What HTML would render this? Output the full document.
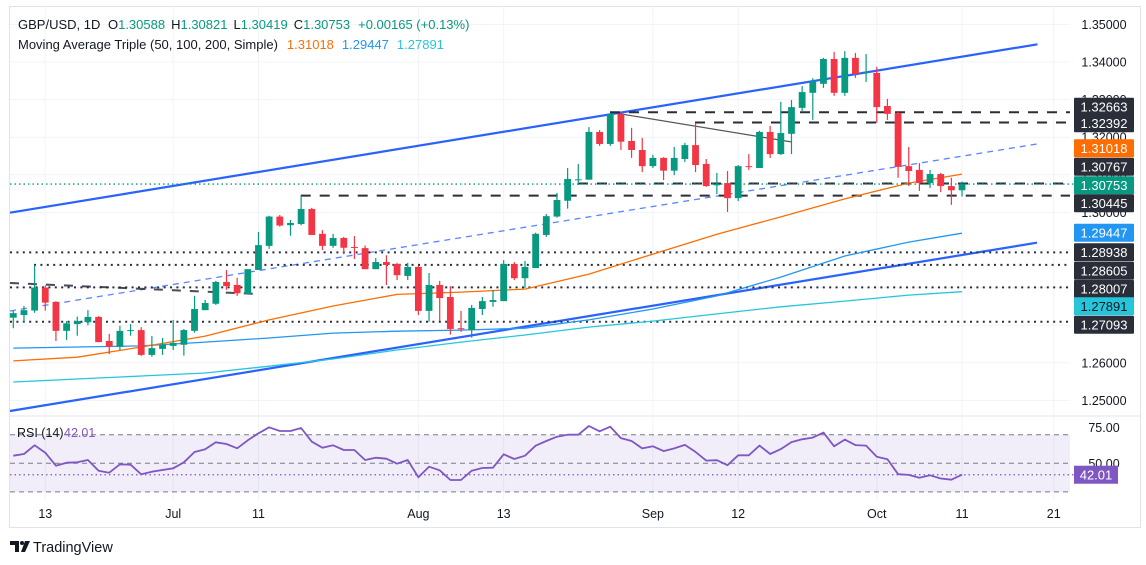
<!DOCTYPE html>
<html><head><meta charset="utf-8"><style>
html,body{margin:0;padding:0;background:#fff;}
svg{display:block;font-family:"Liberation Sans",sans-serif;}
</style></head><body>
<svg id="chart" width="1146" height="565" viewBox="0 0 1146 565" xmlns="http://www.w3.org/2000/svg"></svg>
<script>
const opens=[1.2720,1.2727,1.2739,1.2800,1.2762,1.2685,1.2703,1.2708,1.2722,1.2658,1.2643,1.2685,1.2687,1.2621,1.2637,1.2645,1.2648,1.2685,1.2740,1.2757,1.2815,1.2807,1.2783,1.2847,1.2911,1.2989,1.2966,1.2969,1.3009,1.2943,1.2911,1.2932,1.2908,1.2905,1.2849,1.2868,1.2863,1.2831,1.2855,1.2738,1.2807,1.2775,1.2692,1.2687,1.2743,1.2762,1.2764,1.2863,1.2825,1.2852,1.2940,1.2989,1.3031,1.3086,1.3087,1.3214,1.3182,1.3262,1.3190,1.3166,1.3123,1.3145,1.3111,1.3142,1.3179,1.3129,1.3072,1.3078,1.3038,1.3123,1.3118,1.3214,1.3155,1.3209,1.3278,1.3318,1.3342,1.3408,1.3318,1.3411,1.3371,1.3371,1.3283,1.3264,1.3123,1.3113,1.3078,1.3102,1.3070,1.30588];
const highs=[1.2738,1.2751,1.2860,1.2806,1.2764,1.2711,1.2723,1.2740,1.2724,1.2677,1.2698,1.2703,1.2695,1.2671,1.2666,1.2714,1.2690,1.2778,1.2767,1.2818,1.2847,1.2826,1.2849,1.2948,1.2991,1.2993,1.2980,1.3044,1.3012,1.2953,1.2943,1.2935,1.2937,1.2912,1.2879,1.2886,1.2866,1.2866,1.2858,1.2839,1.2818,1.2804,1.2738,1.2754,1.2775,1.2794,1.2873,1.2868,1.2871,1.2946,1.2996,1.3052,1.3118,1.3129,1.3227,1.3219,1.3264,1.3264,1.3225,1.3198,1.3153,1.3147,1.3174,1.3185,1.3238,1.3142,1.3105,1.3110,1.3126,1.3155,1.3217,1.3230,1.3294,1.3299,1.3336,1.3357,1.3411,1.3427,1.3429,1.3424,1.3421,1.3387,1.3302,1.3270,1.3174,1.3131,1.3113,1.3105,1.3092,1.30821];
const lows=[1.2692,1.2707,1.2733,1.2739,1.2658,1.2661,1.2672,1.2700,1.2655,1.2623,1.2634,1.2672,1.2618,1.2616,1.2621,1.2634,1.2619,1.2680,1.2740,1.2754,1.2794,1.2778,1.2783,1.2847,1.2903,1.2962,1.2938,1.2966,1.2940,1.2900,1.2906,1.2889,1.2876,1.2849,1.2849,1.2807,1.2820,1.2820,1.2727,1.2709,1.2711,1.2675,1.2682,1.2667,1.2727,1.2749,1.2764,1.2820,1.2799,1.2852,1.2935,1.2986,1.3010,1.3073,1.3087,1.3177,1.3177,1.3166,1.3145,1.3107,1.3118,1.3086,1.3099,1.3134,1.3107,1.3068,1.3049,1.3001,1.3030,1.3113,1.3118,1.3145,1.3153,1.3155,1.3267,1.3246,1.3331,1.3310,1.3310,1.3358,1.3347,1.3238,1.3246,1.3092,1.3070,1.3057,1.3065,1.3054,1.3020,1.30419];
const closes=[1.2732,1.2740,1.2800,1.2760,1.2685,1.2705,1.2711,1.2722,1.2655,1.2643,1.2685,1.2687,1.2621,1.2639,1.2648,1.2653,1.2687,1.2743,1.2759,1.2815,1.2804,1.2785,1.2849,1.2913,1.2989,1.2965,1.2972,1.3009,1.2940,1.2911,1.2932,1.2906,1.2906,1.2849,1.2868,1.2860,1.2833,1.2855,1.2738,1.2807,1.2772,1.2690,1.2691,1.2746,1.2764,1.2767,1.2863,1.2825,1.2855,1.2943,1.2990,1.3033,1.3089,1.3088,1.3214,1.3182,1.3262,1.3188,1.3166,1.3123,1.3145,1.3111,1.3145,1.3179,1.3126,1.3070,1.3076,1.3038,1.3123,1.3121,1.3214,1.3155,1.3211,1.3280,1.3320,1.3347,1.3408,1.3318,1.3411,1.3368,1.3374,1.3280,1.3262,1.3121,1.3110,1.3078,1.3102,1.3070,1.30588,1.30753];
const maIdx=[0,6,12,18,24,30,36,42,48,54,60,66,72,78,84,89];
const sma50=[1.2605,1.2615,1.2642,1.2671,1.2714,1.2751,1.2782,1.2788,1.2796,1.2836,1.2889,1.2942,1.2988,1.3036,1.3078,1.31018];
const sma100=[1.2639,1.2642,1.2645,1.2655,1.2666,1.2679,1.2684,1.2687,1.2692,1.2714,1.2743,1.2778,1.2828,1.2884,1.2921,1.29447];
const sma200=[1.2549,1.2557,1.2565,1.2573,1.2591,1.2610,1.2634,1.2655,1.2674,1.2695,1.2711,1.2730,1.2749,1.2764,1.2780,1.27891];
const rsi=[55.3,56.5,62.6,57.4,48.3,50.4,50.7,52.3,44.8,43.4,49.3,49.0,42.3,44.1,45.3,46.5,50.7,57.9,59.8,64.7,63.5,60.5,66.1,71.0,75.2,72.6,72.6,74.7,65.1,60.9,62.6,59.3,59.3,52.3,53.9,53.2,49.7,52.3,40.2,47.6,45.1,38.3,38.3,44.8,46.7,46.9,56.3,53.0,55.3,62.3,65.6,68.6,70.0,70.0,76.1,72.4,75.6,67.6,65.6,60.4,61.9,58.5,60.4,62.9,58.0,51.9,52.2,48.7,55.6,55.6,62.4,56.5,59.9,64.8,66.8,68.0,71.5,61.9,66.6,62.7,62.4,54.6,52.9,42.4,41.9,39.9,41.6,39.4,38.5,42.01];
const priceTicks=[1.25,1.26,1.27,1.28,1.29,1.30,1.31,1.32,1.33,1.34,1.35];
const dateLabels=["13","Jul","11","Aug","13","Sep","12","Oct","11","21"];
const dateIdx=[3,15,23,38,46,60,68,81,89,97.6];
const levelDash=[1.32663,1.32392,1.30767,1.30445];
const levelDot=[1.28938,1.28605,1.28007,1.27093];

const NS="http://www.w3.org/2000/svg";
const svg=document.getElementById('chart');
const X=i=>13.3+i*10.66;
const Y=p=>212.4-(p-1.30)*3760;
const RY=v=>463.3-(v-50)*1.43;
function el(tag,attrs,parent){const e=document.createElementNS(NS,tag);for(const k in attrs)e.setAttribute(k,attrs[k]);(parent||svg).appendChild(e);return e;}
function txt(s,x,y,attrs,parent){const t=el('text',Object.assign({x:x,y:y},attrs),parent);t.textContent=s;return t;}

// frame
let g=el('rect',{x:9.5,y:6.5,width:1131,height:521,fill:'none',stroke:'#e0e3eb'});


let sep=el('line',{x1:10,y1:416,x2:1140,y2:416,stroke:'#e0e3eb'});



// grid
priceTicks.forEach(p=>{const l=el('line',{x1:10,x2:1070,y1:Y(p),y2:Y(p),stroke:'#f0f3fa'});

});
dateIdx.forEach(i=>{const l=el('line',{x1:X(i),x2:X(i),y1:7,y2:500,stroke:'#f0f3fa'});

});

// price tick labels
priceTicks.forEach(p=>{const t=txt(p.toFixed(5),1104,Y(p)+4.5,{'font-size':12.5,fill:'#131722','text-anchor':'middle'});

});

// drawings: channel
function line(x1,y1,x2,y2,attrs,name){const l=el('line',Object.assign({x1,y1,x2,y2},attrs));

return l;}
line(10,212.7,1037.5,44.3,{stroke:'#2962ff','stroke-width':2.2},'upper-channel-line');
line(10,411,1037,242.7,{stroke:'#2962ff','stroke-width':2.2},'lower-channel-line');
line(10,311,1037,144,{stroke:'#5b84ff','stroke-width':1.3,'stroke-dasharray':'6 5'},'mid-channel-dashed-line');
line(615,113,792,142,{stroke:'#555','stroke-width':1.2},'trend-line');
line(10,283,258,294,{stroke:'#2a2e39','stroke-width':2,'stroke-dasharray':'9 9','opacity':0.85},'old-dashed-level');
const dashStart=[610,695,578,300.7];
levelDash.forEach((p,k)=>{line(dashStart[k],Y(p),1070,Y(p),{stroke:'#2a2e39','stroke-width':2,'stroke-dasharray':'10 9'},'dashed-level-line');});
const dotStart=[10,34,10,10];
levelDot.forEach((p,k)=>{line(dotStart[k],Y(p),1070,Y(p),{stroke:'#2a2e39','stroke-width':2,'stroke-dasharray':'2 4.4'},'dotted-level-line');});

// MAs
function maPath(arr,color,name){const d=arr.map((v,k)=>(k?'L':'M')+X(maIdx[k]).toFixed(1)+' '+Y(v).toFixed(1)).join(' ');
const p=el('path',{d:d,fill:'none',stroke:color,'stroke-width':1.3});

}
maPath(sma200,'#26c6da','sma-200-line');
maPath(sma100,'#2196f3','sma-100-line');
maPath(sma50,'#ff6d00','sma-50-line');

// current price line
let cp=line(10,Y(closes[closes.length-1]),1074,Y(closes[closes.length-1]),{stroke:'#089981','stroke-width':1.3,'stroke-dasharray':'1.5 3'},'current-price-line');


// candles
for(let i=0;i<opens.length;i++){
  const up=closes[i]>=opens[i];const c=up?'#089981':'#f23645';
  const cg=el('g',{});
  
  
  el('line',{x1:X(i),x2:X(i),y1:Y(highs[i]),y2:Y(lows[i]),stroke:c,'stroke-width':1.2},cg);
  const top=Y(Math.max(opens[i],closes[i])),bot=Y(Math.min(opens[i],closes[i]));
  el('rect',{x:X(i)-3.4,y:top,width:6.8,height:Math.max(1,bot-top),fill:c},cg);
}

// price axis labels
function box(label,cy,bg,fg,name){const bg_=el('rect',{x:1074,y:cy-9,width:60,height:18,fill:bg,rx:1});


const t=txt(label,1104,cy+4.6,{'font-size':13,fill:fg,'text-anchor':'middle'});

}
box('1.32663',106.7,'#2a2e39','#fff','level-label-132663');
box('1.32392',123.3,'#2a2e39','#fff','level-label-132392');
box('1.31018',148.3,'#ff6d00','#fff','sma50-label');
box('1.30767',166.7,'#2a2e39','#fff','level-label-130767');
box('1.30753',185.3,'#089981','#fff','last-price-label');
box('1.30445',203.3,'#2a2e39','#fff','level-label-130445');
box('1.29447',232.7,'#2196f3','#fff','sma100-label');
box('1.28938',252.3,'#2a2e39','#fff','level-label-128938');
box('1.28605',270.7,'#2a2e39','#fff','level-label-128605');
box('1.28007',289,'#2a2e39','#fff','level-label-128007');
box('1.27891',306.3,'#26c6da','#131722','sma200-label');
box('1.27093',324.7,'#2a2e39','#fff','level-label-127093');

// RSI pane
let band=el('rect',{x:10,y:RY(70),width:1060,height:RY(30)-RY(70),fill:'#7e57c2','fill-opacity':0.1});


[70,50,30].forEach(v=>{const l=el('line',{x1:10,x2:1070,y1:RY(v),y2:RY(v),stroke:'#787b86','stroke-dasharray':'5 4'});

});
let rl=el('line',{x1:10,x2:1074,y1:RY(rsi[rsi.length-1]),y2:RY(rsi[rsi.length-1]),stroke:'#7e57c2','stroke-width':1.3,'stroke-dasharray':'1.5 3'});


let rp=el('path',{d:rsi.map((v,i)=>(i?'L':'M')+X(i).toFixed(1)+' '+RY(v).toFixed(1)).join(' '),fill:'none',stroke:'#7e57c2','stroke-width':1.8,'stroke-linejoin':'round'});


[75,50].forEach(v=>{const t=txt(v.toFixed(2),1104,RY(v)+4.5,{'font-size':12.5,fill:'#131722','text-anchor':'middle'});

});
let rb=el('rect',{x:1074,y:RY(rsi[rsi.length-1])-9,width:44,height:18,fill:'#7e57c2'});


let rbt=txt(rsi[rsi.length-1].toFixed(2),1096,RY(rsi[rsi.length-1])+4.6,{'font-size':13,fill:'#fff','text-anchor':'middle'});


let rt=txt('RSI (14)',17,437,{'font-size':12.5,fill:'#131722'});


let rv=txt('42.01',64,437,{'font-size':12.5,fill:'#7e57c2'});



// date labels
dateLabels.forEach((s,k)=>{const t=txt(s,X(dateIdx[k]),518,{'font-size':12.5,fill:'#131722','text-anchor':'middle'});

});

// header legend
let h1=el('text',{x:18,y:29,'font-size':13,fill:'#131722'});


h1.innerHTML='GBP/USD, 1D <tspan dx="4">O</tspan><tspan fill="#089981">1.30588</tspan><tspan dx="6">H</tspan><tspan fill="#089981">1.30821</tspan><tspan dx="6">L</tspan><tspan fill="#089981">1.30419</tspan><tspan dx="6">C</tspan><tspan fill="#089981">1.30753</tspan><tspan dx="8" fill="#089981">+0.00165 (+0.13%)</tspan>';
let h2=el('text',{x:18,y:49,'font-size':13,fill:'#131722'});


h2.innerHTML='Moving Average Triple (50, 100, 200, Simple)<tspan dx="9" fill="#ff6d00">1.31018</tspan><tspan dx="8" fill="#2196f3">1.29447</tspan><tspan dx="8" fill="#26c6da">1.27891</tspan>';

// logo
let lg=el('g',{});


el('path',{d:'M10 541 h9 v11 h-4 v-7 h-5z',fill:'#131722'},lg);
el('circle',{cx:22,cy:543,r:2,fill:'#131722'},lg);
el('path',{d:'M25 541 h5 l-5 11 h-4z',fill:'#131722'},lg);
txt('TradingView',33,552,{'font-size':14.5,fill:'#131722'},lg);
</script>
</body></html>
